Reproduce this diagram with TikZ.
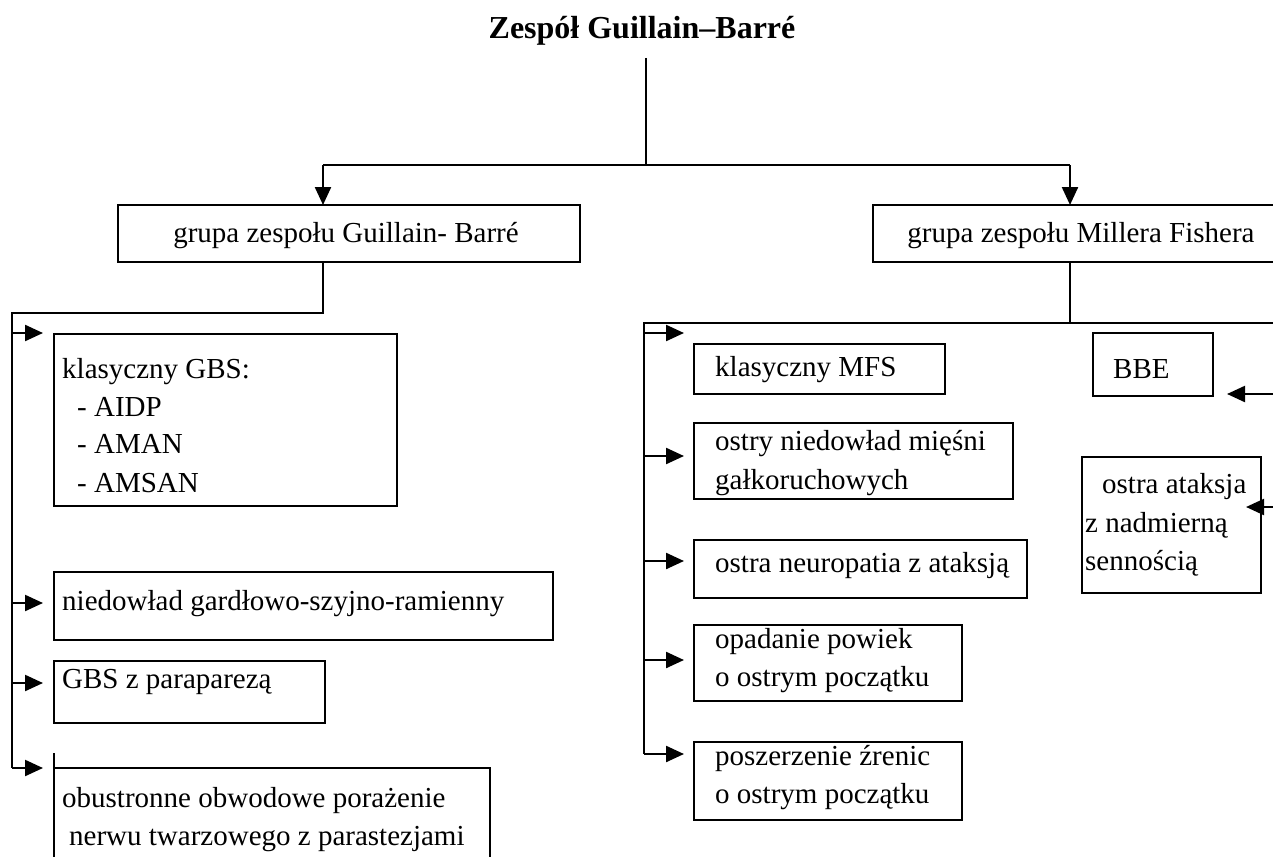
\documentclass[tikz,border=0pt]{standalone}
\usepackage{fontspec}
\setmainfont{Liberation Serif}
\usetikzlibrary{arrows.meta,calc}
\newcommand{\bodyfont}{\fontsize{29}{38}\selectfont}
\newcommand{\titlefont}{\fontsize{32}{40}\selectfont\bfseries}
\begin{document}
\begin{tikzpicture}[x=1pt,y=-1pt,
  box/.style={draw, line width=2.3pt, inner sep=0pt, outer sep=0pt, anchor=north west},
  txt/.style={inner sep=0pt, anchor=base west, font=\bodyfont},
  ctxt/.style={inner sep=0pt, anchor=base, font=\bodyfont},
  conn/.style={line width=2.3pt},
  thinconn/.style={line width=1.6pt},
  arr/.style={line width=2.3pt, -{Triangle[length=18pt,width=16pt]}},
]
\useasboundingbox (0,0) rectangle (1273,856);
\fill[white] (0,0) rectangle (1273,856);

% title
\node[font=\titlefont, inner sep=0pt, anchor=base] (title) at (642,39) {Zespół Guillain–Barré};

% level 1 boxes
\node[box, minimum width=462pt, minimum height=57pt] (gb) at (118,205) {};
\node[ctxt] (gbt) at (346,242) {grupa zespołu Guillain- Barré};
\node[box, minimum width=430pt, minimum height=57pt] (mf) at (873,205) {};
\node[ctxt] (mft) at (1081,242) {grupa zespołu Millera Fishera};

% top connectors
\coordinate (t0) at (646,58);
\coordinate (split) at (646,165);
\coordinate (sl) at (323,165);
\coordinate (sr) at (1070,165);
\draw[thinconn] (t0) -- (split);
\draw[conn] (sl) -- (sr);
\draw[arr] (sl) -- (sl |- gb.north);
\draw[arr] (sr) -- (sr |- mf.north);

% left boxes
\node[box, minimum width=343pt, minimum height=172pt] (k1) at (54,334) {};
\node[txt] (k1a) at (62,378) {klasyczny GBS:};
\node[txt] (k1b) at (77,416) {- AIDP};
\node[txt] (k1c) at (77,453) {- AMAN};
\node[txt] (k1d) at (77,492) {- AMSAN};

\node[box, minimum width=499pt, minimum height=68pt] (k2) at (54,572) {};
\node[txt] (k2a) at (62,610) {niedowład gardłowo-szyjno-ramienny};

\node[box, minimum width=271pt, minimum height=62pt] (k3) at (54,661) {};
\node[txt] (k3a) at (62,688) {GBS z paraparezą};

\node[box, minimum width=436pt, minimum height=130pt] (k4) at (54,768) {};
\draw[conn] (k4.north west) -- ++(0,-15);
\node[txt] (k4a) at (62,807) {obustronne obwodowe porażenie};
\node[txt] (k4b) at (69,845) {nerwu twarzowego z parastezjami};

% left trunk
\coordinate (lc) at (323,313);
\coordinate (ld) at (12,313);
\coordinate (le) at (12,768);
\draw[conn] (sl |- gb.south) -- (lc) -- (ld) -- (le);
\coordinate (la1) at (12,333);
\coordinate (la2) at (12,603);
\coordinate (la3) at (12,683);
\coordinate (la4) at (12,768);
\draw[arr, shorten >=11pt] (la1) -- (la1 -| k1.west);
\draw[arr, shorten >=11pt] (la2) -- (la2 -| k2.west);
\draw[arr, shorten >=11pt] (la3) -- (la3 -| k3.west);
\draw[arr, shorten >=11pt] (la4) -- (la4 -| k4.west);

% right boxes
\node[box, minimum width=251pt, minimum height=50pt] (r1) at (694,344) {};
\node[txt] (r1a) at (715,376) {klasyczny MFS};

\node[box, minimum width=319pt, minimum height=76pt] (r2) at (694,423) {};
\node[txt] (r2a) at (715,450) {ostry niedowład mięśni};
\node[txt] (r2b) at (715,489) {gałkoruchowych};

\node[box, minimum width=333pt, minimum height=58pt] (r3) at (694,540) {};
\node[txt] (r3a) at (715,572) {ostra neuropatia z ataksją};

\node[box, minimum width=268pt, minimum height=76pt] (r4) at (694,625) {};
\node[txt] (r4a) at (715,648) {opadanie powiek};
\node[txt] (r4b) at (715,686) {o ostrym początku};

\node[box, minimum width=268pt, minimum height=78pt] (r5) at (694,742) {};
\node[txt] (r5a) at (715,765) {poszerzenie źrenic};
\node[txt] (r5b) at (715,803) {o ostrym początku};

\node[box, minimum width=120pt, minimum height=63pt] (bbe) at (1093,333) {};
\node[txt] (bbea) at (1113,378) {BBE};

\node[box, minimum width=179pt, minimum height=136pt] (oa) at (1082,457) {};
\node[txt] (oaa) at (1102,493) {ostra ataksja};
\node[txt] (oab) at (1085,532) {z nadmierną};
\node[txt] (oac) at (1085,570) {sennością};

% right trunk
\coordinate (rc) at (1070,323);
\coordinate (rl) at (644,323);
\coordinate (rr) at (1290,323);
\coordinate (rbot) at (644,754);
\draw[thinconn] (sr |- mf.south) -- (rc);
\draw[conn] (rr) -- (rl) -- (rbot);
\coordinate (ra1) at (644,333);
\coordinate (ra2) at (644,456);
\coordinate (ra3) at (644,561);
\coordinate (ra4) at (644,660);
\coordinate (ra5) at (644,754);
\draw[arr, shorten >=10pt] (ra1) -- (ra1 -| r1.west);
\draw[arr, shorten >=10pt] (ra2) -- (ra2 -| r2.west);
\draw[arr, shorten >=10pt] (ra3) -- (ra3 -| r3.west);
\draw[arr, shorten >=10pt] (ra4) -- (ra4 -| r4.west);
\draw[arr, shorten >=10pt] (ra5) -- (ra5 -| r5.west);

% arrows from the right edge
\coordinate (eb) at (1290,394);
\coordinate (ebt) at (1227,394);
\draw[arr] (eb) -- (ebt);
\coordinate (eo) at (1290,507);
\coordinate (eot) at (1246,507);
\draw[arr] (eo) -- (eot);
\end{tikzpicture}
\end{document}
